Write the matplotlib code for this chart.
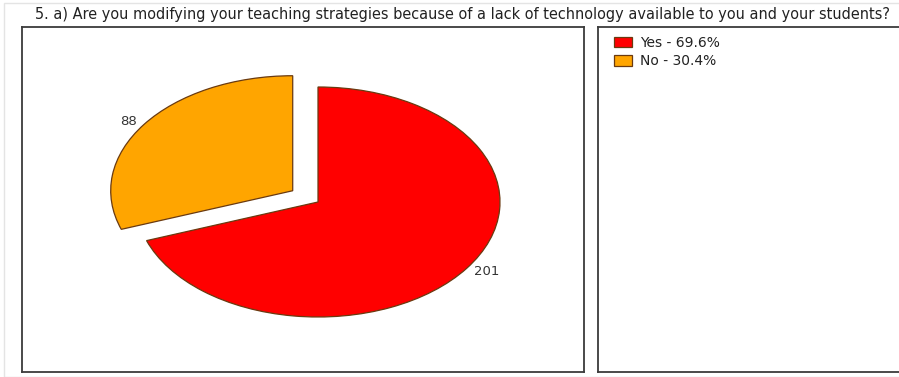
import matplotlib
matplotlib.use("Agg")
import matplotlib.pyplot as plt
from matplotlib.patches import Rectangle

title = ("5. a) Are you modifying your teaching strategies because of a lack "
         "of technology available to you and your students?")
categories = ["Yes", "No"]
counts = [201, 88]
colors = ["#ff0000", "#ffa500"]
explode = [0.0, 0.17]

W, H = 899, 377
fig = plt.figure(figsize=(W / 100, H / 100), dpi=100)
fig.patch.set_facecolor("white")


def px_rect(x0, y0, x1, y1):
    """Figure-fraction rect from pixel box (top-left origin)."""
    return [x0 / W, 1 - y1 / H, (x1 - x0) / W, (y1 - y0) / H]


# faint outer frame
fig.add_artist(Rectangle((4 / W, 0), 1.0, 1 - 3 / H, transform=fig.transFigure,
                         fill=False, edgecolor="#e4e4e4", linewidth=1))

fig.text(35 / W, 1 - 14 / H, title, fontsize=10.45, color="#222222",
         ha="left", va="center", family="DejaVu Sans")

# pie panel
ax = fig.add_axes(px_rect(22, 27, 584, 372))
total = sum(counts)
wedges, texts = ax.pie(counts, colors=colors, explode=explode, startangle=90,
                       counterclock=False, labels=[str(c) for c in counts],
                       labeldistance=1.05,
                       wedgeprops=dict(edgecolor="#6a3a10", linewidth=0.9),
                       textprops=dict(fontsize=9.5, color="#333333"))
cx, cy, rx, ry = 318, 202, 182, 115
ax.set_aspect("auto")
ax.set_xlim((22 - cx) / rx, (584 - cx) / rx)
ax.set_ylim((cy - 372) / ry, (cy - 27) / ry)
ax.set_frame_on(True)
for s in ax.spines.values():
    s.set_color("#3c3c3c")
    s.set_linewidth(1.3)
ax.set_xticks([])
ax.set_yticks([])

# legend panel
ax2 = fig.add_axes(px_rect(598, 27, 905, 372))
ax2.set_xticks([])
ax2.set_yticks([])
for name, s in ax2.spines.items():
    s.set_color("#3c3c3c")
    s.set_linewidth(1.3)
ax2.spines["right"].set_visible(False)

labels = [f"{c} - {100 * v / total:.1f}%" for c, v in zip(categories, counts)]
ax2.legend(wedges, labels, loc="upper left",
           bbox_to_anchor=(614 / W, 1 - 36 / H), bbox_transform=fig.transFigure,
           frameon=False, prop=dict(size=10), labelcolor="#222222",
           borderaxespad=0, borderpad=0,
           handlelength=1.3, handleheight=0.8, handletextpad=0.6,
           labelspacing=0.3)

fig.savefig("out.png", dpi=100)
